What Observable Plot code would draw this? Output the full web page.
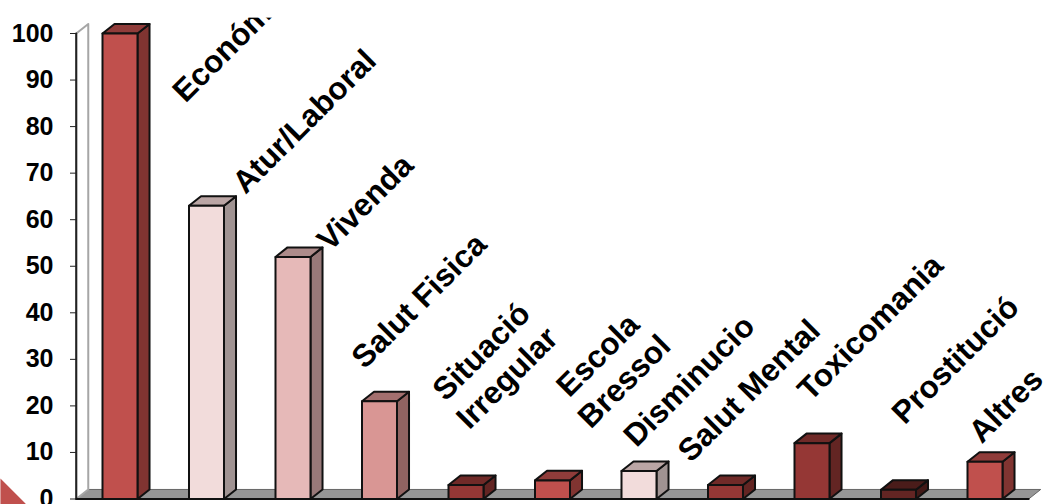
<!DOCTYPE html>
<html>
<head>
<meta charset="utf-8">
<script src="https://cdn.jsdelivr.net/npm/d3@7"></script>
<script src="https://cdn.jsdelivr.net/npm/@observablehq/plot@0.6"></script>
<style>
html,body{margin:0;padding:0;background:#fff;overflow:hidden}
svg{display:block}
</style>
</head>
<body>
<div id="chart"></div>
<script>
const categories = ["Económica","Atur/Laboral","Vivenda","Salut Fisica","Situació Irregular","Escola Bressol","Disminucio","Salut Mental","Toxicomania","Prostitució","Altres"];
const values = [100,63,52,21,3,4,6,3,12,2,8];
const frontColors = ["#C0504D","#F2DCDB","#E6B9B8","#D99694","#953735","#C0504D","#F2DCDB","#953735","#953735","#632523","#C0504D"];
const sideColors  = ["#803431","#A09392","#987979","#916361","#632523","#803431","#A09392","#632523","#632523","#421917","#803431"];
const topColors   = ["#903C3A","#BBA6A5","#AD8B8A","#A36F6E","#702A28","#903C3A","#BBA6A5","#702A28","#702A28","#4A1C1A","#903C3A"];
const labelLines = ["Económica","Atur/Laboral","Vivenda","Salut Fisica","Situació","Irregular","Escola","Bressol","Disminucio","Salut Mental","Toxicomania","Prostitució","Altres"];
const labelSlot  = [0.757,1.451,2.428,2.827,3.763,4.038,5.194,5.441,5.971,6.598,7.982,9.071,9.962];
const labelValue = [84.9,65.3,53.0,27.7,20.8,14.7,21.6,14.9,10.9,7.6,20.8,15.8,11.7];
const yTicks = d3.range(0,101,10);

// geometry in data units
const halfW = 0.2023, depthX = 0.139, depthY = 2.05;
const polys = [];
values.forEach((v,i)=>{
  const l=i-halfW, r=i+halfW;
  const add=(name,fill,pts)=>pts.forEach(([x,y])=>polys.push({id:i+name,fill,x,y}));
  add("s",sideColors[i],[[r,0],[r+depthX,depthY],[r+depthX,v+depthY],[r,v]]);
  add("t",topColors[i],[[l,v],[l+depthX,v+depthY],[r+depthX,v+depthY],[r,v]]);
  add("f",frontColors[i],[[l,0],[r,0],[r,v],[l,v]]);
});
const x0=-0.506, x1=x0+depthX, xEnd=10.505;
const floor=[[x0,0],[x1,depthY],[xEnd+depthX,depthY],[xEnd,0]].map(([x,y])=>({x,y}));
const wall=[[x0,100],[x1,100+depthY],[x1,depthY],[x0,0]].map(([x,y])=>({x,y}));
const corner=[[-1.382,4.4],[-1.081,-1.2],[-1.382,-1.2]].map(([x,y])=>({x,y}));

const chart = Plot.plot({
  width:1046, height:504,
  marginLeft:76, marginTop:0, marginRight:0, marginBottom:0,
  x:{domain:[0,10],range:[119.5,984.5],axis:null},
  y:{domain:[0,100],range:[498.5,33],axis:null},
  style:{fontFamily:"'Liberation Sans',Arial,sans-serif",background:"#fff",overflow:"hidden"},
  marks:[
    Plot.line(corner,{x:"x",y:"y",fill:"#C0504D",stroke:"none",curve:"linear-closed"}),
    Plot.line(floor,{x:"x",y:"y",fill:"#969696",stroke:"#666",strokeWidth:1,curve:"linear-closed"}),
    Plot.line(wall,{x:"x",y:"y",fill:"#fff",stroke:"#a6a6a6",strokeWidth:2,curve:"linear-closed"}),
    Plot.line([{x:x0,y:0},{x:x0,y:100}],{x:"x",y:"y",stroke:"#222",strokeWidth:2}),
    Plot.line(polys,{x:"x",y:"y",z:"id",fill:"fill",stroke:"#111",strokeWidth:2,strokeLinejoin:"round",curve:"linear-closed"}),
    Plot.line([{x:x0,y:0},{x:xEnd,y:0}],{x:"x",y:"y",stroke:"#111",strokeWidth:2}),
    Plot.axisY(yTicks,{anchor:"left",tickSize:6,tickPadding:17,fontSize:25,fontWeight:"bold",fill:"#000",stroke:"#222",textStroke:"none",label:null}),
    Plot.text(labelLines,{x:(d,i)=>labelSlot[i],y:(d,i)=>labelValue[i],text:d=>d,rotate:-45,textAnchor:"start",lineAnchor:"bottom",fontSize:31.5,fontWeight:"bold",fill:"#000"}),
    Plot.rect([0],{x1:0.4,x2:3,y1:103.3,y2:108,fill:"#fff"})
  ]
});
document.getElementById("chart").appendChild(chart);
</script>
</body>
</html>
